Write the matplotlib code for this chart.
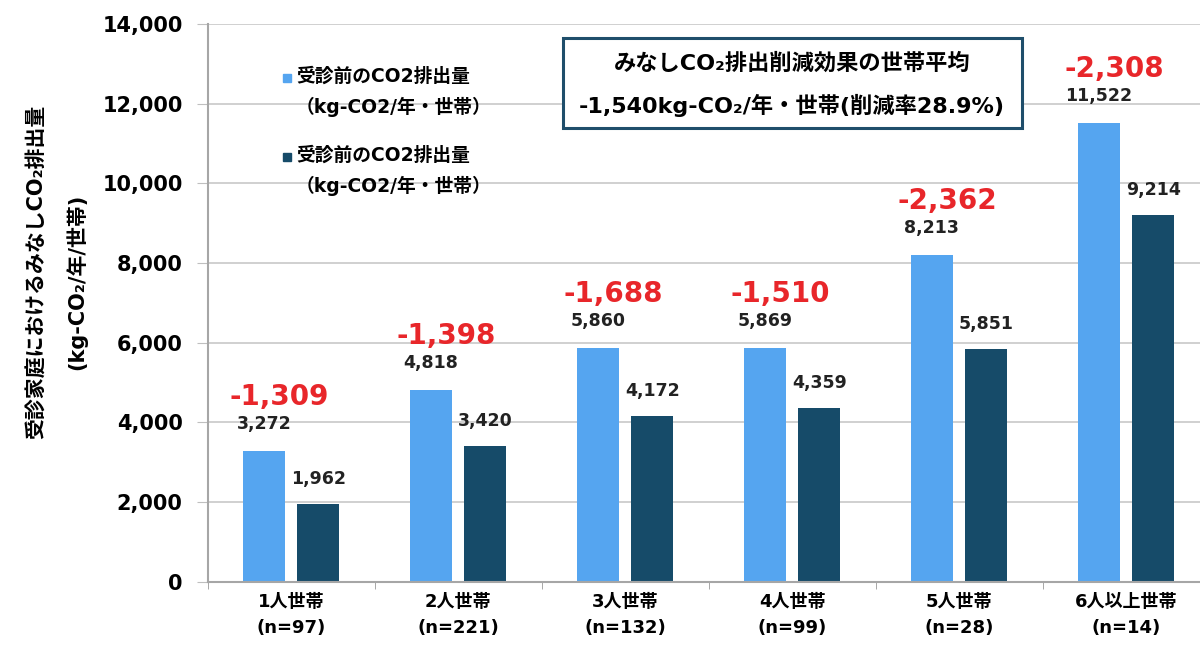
import matplotlib
matplotlib.use("Agg")
import matplotlib.pyplot as plt
from matplotlib.patches import Rectangle
import numpy as np

plt.rcParams['font.family'] = ['DejaVu Sans', 'Noto Sans CJK JP']

categories = ["1人世帯\n(n=97)", "2人世帯\n(n=221)", "3人世帯\n(n=132)",
              "4人世帯\n(n=99)", "5人世帯\n(n=28)", "6人以上世帯\n(n=14)"]
before = [3272, 4818, 5860, 5869, 8213, 11522]
after = [1962, 3420, 4172, 4359, 5851, 9214]
reduction = [-1309, -1398, -1688, -1510, -2362, -2308]
legend_labels = ["受診前のCO2排出量\n（kg-CO2/年・世帯）",
                 "受診前のCO2排出量\n（kg-CO2/年・世帯）"]

LIGHT = "#55A5F0"
DARK = "#164B69"
RED = "#E8262A"

fig = plt.figure(figsize=(12, 6.53), dpi=100)
ax = fig.add_axes([0.173, 0.109, 0.835, 0.854])

x = np.arange(len(categories))
w = 0.25
off = 0.163
ax.bar(x - off, before, w, color=LIGHT, zorder=2)
ax.bar(x + off, after, w, color=DARK, zorder=2)

for i in range(len(x)):
    ax.annotate(f"{before[i]:,}", (x[i] - off, before[i]), xytext=(0, 27),
                textcoords="offset pixels", ha="center", va="center",
                fontsize=12.5, fontweight="bold", color="#222222")
    ax.annotate(f"{after[i]:,}", (x[i] + off, after[i]), xytext=(0, 25),
                textcoords="offset pixels", ha="center", va="center",
                fontsize=12.5, fontweight="bold", color="#222222")
    ax.annotate(f"{reduction[i]:,}", (x[i] - 0.07, before[i]), xytext=(0, 54),
                textcoords="offset pixels", ha="center", va="center",
                fontsize=20, fontweight="bold", color=RED)

ax.set_ylim(0, 14000)
ax.set_xlim(-0.5, 5.44)
ax.set_yticks(np.arange(0, 14001, 2000))
ax.set_yticklabels([f"{v:,}" for v in range(0, 14001, 2000)],
                   fontsize=15, fontweight="bold")
ax.set_xticks(x)
ax.set_xticklabels(categories, fontsize=13, fontweight="bold", linespacing=1.55)
ax.set_xticks(np.arange(-0.5, 6, 1), minor=True)
ax.tick_params(axis="x", which="major", length=0, pad=8)
ax.tick_params(axis="x", which="minor", length=5, color="#999999")
ax.tick_params(axis="y", length=8, color="#BFBFBF", pad=10)

ax.grid(axis="y", color="#C8C8C8", linewidth=1.2, zorder=0)
ax.set_axisbelow(True)
for s in ["top", "right"]:
    ax.spines[s].set_visible(False)
ax.spines["left"].set_color("#A6A6A6")
ax.spines["left"].set_linewidth(1.5)
ax.spines["bottom"].set_color("#A6A6A6")
ax.spines["bottom"].set_linewidth(1.5)

fig.text(37 / 1200, 1 - 272 / 653, "受診家庭におけるみなしCO₂排出量", rotation=90,
         ha="center", va="center", fontsize=15, fontweight="bold")
fig.text(76 / 1200, 1 - 282 / 653, "(kg-CO₂/年/世帯)", rotation=90,
         ha="center", va="center", fontsize=15, fontweight="bold")

# legend drawn by hand: small square next to first line of each label
for j, (lab, col) in enumerate(zip(legend_labels, [LIGHT, DARK])):
    y0 = 1 - (78 + j * 79) / 653
    fig.patches.append(Rectangle((283 / 1200, y0 - 4 / 653), 8 / 1200, 8 / 653,
                                 transform=fig.transFigure, color=col))
    fig.text(296 / 1200, y0 + 11 / 653, lab, ha="left", va="top",
             fontsize=13.5, fontweight="bold", linespacing=1.65)

box = Rectangle((563 / 1200, 1 - 128 / 653), (1022 - 563) / 1200, 90 / 653,
                transform=fig.transFigure, facecolor="white",
                edgecolor="#1F4E6B", linewidth=2.2, zorder=5)
fig.patches.append(box)
fig.text(792 / 1200, 1 - 63 / 653, "みなしCO₂排出削減効果の世帯平均",
         ha="center", va="center", fontsize=16, fontweight="bold", zorder=6)
fig.text(792 / 1200, 1 - 105 / 653, "-1,540kg-CO₂/年・世帯(削減率28.9%)",
         ha="center", va="center", fontsize=16, fontweight="bold", zorder=6)

fig.savefig("out.png", dpi=100)
